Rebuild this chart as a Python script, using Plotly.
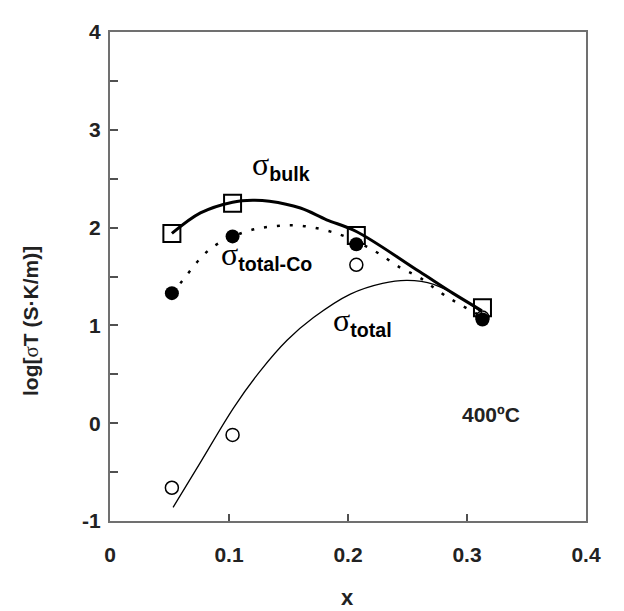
import plotly.graph_objects as go

# measured points (x, log sigma*T)
x_pts = [0.052, 0.103, 0.207, 0.313]
bulk_pts = [1.94, 2.25, 1.92, 1.18]
totalco_pts = [1.33, 1.91, 1.83, 1.06]
total_pts = [-0.66, -0.12, 1.62, 1.08]

# fitted curves
bulk_fit_x = [0.052, 0.076, 0.103, 0.120, 0.134, 0.160, 0.182, 0.207, 0.260, 0.288, 0.3125]
bulk_fit_y = [1.94, 2.15, 2.26, 2.28, 2.27, 2.20, 2.08, 1.96, 1.55, 1.33, 1.15]

totalco_fit_x = [0.052, 0.059, 0.084, 0.112, 0.135, 0.160, 0.193, 0.221, 0.244, 0.260, 0.281, 0.3125]
totalco_fit_y = [1.33, 1.43, 1.78, 1.95, 2.01, 2.02, 1.93, 1.77, 1.59, 1.49, 1.31, 1.09]

total_fit_x = [0.053, 0.076, 0.104, 0.126, 0.149, 0.171, 0.202, 0.229, 0.250, 0.272, 0.292, 0.3125]
total_fit_y = [-0.86, -0.40, 0.16, 0.53, 0.85, 1.08, 1.32, 1.43, 1.46, 1.42, 1.30, 1.13]

x_ticks = [0, 0.1, 0.2, 0.3, 0.4]
x_labels = ["0", "0.1", "0.2", "0.3", "0.4"]
y_ticks = [-1, 0, 1, 2, 3, 4]
y_labels = ["-1", "0", "1", "2", "3", "4"]

FONT = "Arial, Liberation Sans, sans-serif"
SIG = '<span style="font-family:Liberation Serif;font-weight:normal">σ</span>'
SIG_BIG = '<span style="font-family:Liberation Serif;font-weight:normal;font-size:32px">σ</span>'

fig = go.Figure()

# curves
fig.add_trace(go.Scatter(x=total_fit_x, y=total_fit_y, mode="lines", line_shape="spline",
                         line=dict(color="black", width=1.3)))
fig.add_trace(go.Scatter(x=totalco_fit_x, y=totalco_fit_y, mode="lines", line_shape="spline",
                         line=dict(color="black", width=2.5, dash="3px,10px")))
fig.add_trace(go.Scatter(x=bulk_fit_x, y=bulk_fit_y, mode="lines", line_shape="spline",
                         line=dict(color="black", width=3)))

# markers
fig.add_trace(go.Scatter(x=x_pts, y=total_pts, mode="markers",
                         marker=dict(symbol="circle-open", size=13, color="black",
                                     line=dict(width=1.5, color="black"))))
fig.add_trace(go.Scatter(x=x_pts, y=bulk_pts, mode="markers",
                         marker=dict(symbol="square-open", size=17, color="black",
                                     line=dict(width=2, color="black"))))
fig.add_trace(go.Scatter(x=x_pts, y=totalco_pts, mode="markers",
                         marker=dict(symbol="circle", size=14, color="black")))

# page has an 8px body margin, so the figure is a bit smaller than the window
fig.update_layout(
    width=616, height=603,
    margin=dict(l=102, r=38, t=14, b=90),
    plot_bgcolor="white", paper_bgcolor="white",
    showlegend=False,
    font=dict(family=FONT, color="black"),
)

fig.update_xaxes(
    range=[0, 0.4], tickvals=x_ticks, ticktext=x_labels,
    showgrid=False, zeroline=False,
    showline=True, linecolor="#707070", linewidth=2, mirror=True,
    ticks="inside", ticklen=7, tickcolor="#505050", tickwidth=1.5,
    tickfont=dict(family=FONT, size=21, color="#222", weight="bold"),
    ticklabelstandoff=14,
)
fig.update_yaxes(
    range=[-1, 4], tickvals=y_ticks, ticktext=y_labels,
    showgrid=False, zeroline=False,
    showline=True, linecolor="#707070", linewidth=2, mirror=True,
    ticks="inside", ticklen=8, tickcolor="#505050", tickwidth=1.5,
    minor=dict(dtick=0.5, ticks="inside", ticklen=8, tickcolor="#505050", tickwidth=1.5),
    tickfont=dict(family=FONT, size=21, color="#222", weight="bold"),
    ticklabelstandoff=3,
)

ann_font = dict(family=FONT, size=28, color="black", weight="bold")
fig.update_layout(annotations=[
    dict(text=SIG_BIG + "<sub>bulk</sub>", x=0.118, y=2.63, xref="x", yref="y",
         xanchor="left", yanchor="middle", showarrow=False, font=ann_font),
    dict(text=SIG_BIG + "<sub>total-Co</sub>", x=0.092, y=1.71, xref="x", yref="y",
         xanchor="left", yanchor="middle", showarrow=False, font=ann_font),
    dict(text=SIG_BIG + "<sub>total</sub>", x=0.1855, y=1.04, xref="x", yref="y",
         xanchor="left", yanchor="middle", showarrow=False, font=ann_font),
    dict(text="400ºC", x=0.294, y=0.087, xref="x", yref="y",
         xanchor="left", yanchor="middle", showarrow=False,
         font=dict(family=FONT, size=21, color="#222", weight="bold")),
    # axis titles
    dict(text="log[" + SIG + "T (S·K/m)]", x=-0.166, y=0.409, xref="paper", yref="paper",
         textangle=-90, xanchor="center", yanchor="middle", showarrow=False,
         font=dict(family=FONT, size=21, color="#222", weight="bold")),
    dict(text="x", x=0.498, y=-0.157, xref="paper", yref="paper",
         xanchor="center", yanchor="middle", showarrow=False,
         font=dict(family=FONT, size=22, color="#222", weight="bold")),
])

fig.write_html("out.html")
